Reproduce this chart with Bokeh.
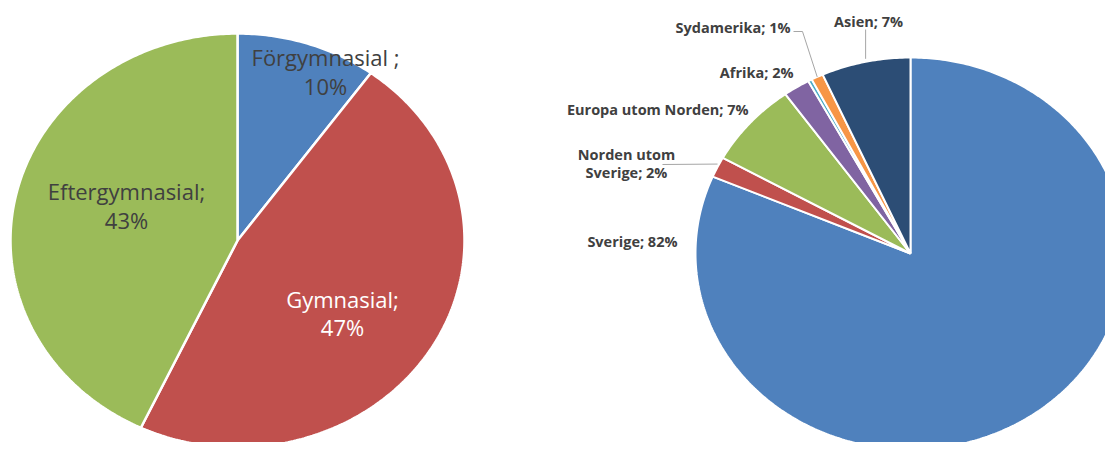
import numpy as np
from bokeh.plotting import figure
from bokeh.models import Range1d
from bokeh.embed import file_html
from bokeh.resources import INLINE
from bokeh.core.properties import value

# ---------------- data ----------------
edu_categories = ["Förgymnasial", "Gymnasial", "Eftergymnasial"]
edu_values = [10, 47, 43]
edu_names = ["Förgymnasial ;", "Gymnasial;", "Eftergymnasial;"]
edu_pct = ["10%", "47%", "43%"]

origin_categories = ["Sverige", "Norden utom Sverige", "Europa utom Norden",
                     "Afrika", "Nordamerika", "Sydamerika", "Asien"]
origin_values = [81.5, 1.7, 7.0, 2.0, 0.3, 0.9, 6.7]
origin_pct = ["82%", "2%", "7%", "2%", "", "1%", "7%"]

# ---------------- styles / layout ----------------
edu_colors = ["#4F81BD", "#C0504D", "#9BBB59"]
origin_colors = ["#4F81BD", "#C0504D", "#9BBB59", "#8064A2", "#4BACC6", "#F79646", "#2C4D75"]
TEXT = "#404040"
LEADER = "#A6A6A6"
FONT = value("Open Sans")

W, H = 1105, 442
p = figure(width=W, height=H, x_range=Range1d(0, W), y_range=Range1d(H, 0),
           output_backend="svg", toolbar_location=None, min_border=0)
p.axis.visible = False
p.grid.visible = False
p.outline_line_color = None
p.background_fill_color = "white"


def slice_shapes(values, cx, cy, rx, ry):
    total = float(sum(values))
    cum = np.concatenate([[0.0], np.cumsum(values)]) / total * 2 * np.pi
    xs, ys = [], []
    for a0, a1 in zip(cum[:-1], cum[1:]):
        n = max(int((a1 - a0) * 80), 2) + 1
        t = np.linspace(a0, a1, n)
        xs.append(np.concatenate([[cx], cx + rx * np.sin(t), [cx]]))
        ys.append(np.concatenate([[cy], cy - ry * np.cos(t), [cy]]))
    mids = (cum[:-1] + cum[1:]) / 2
    return xs, ys, mids


# ---- left pie ----
L_CX, L_CY, L_RX, L_RY = 237, 240, 227, 207
xs, ys, _ = slice_shapes(edu_values, L_CX, L_CY, L_RX, L_RY)
p.patches(xs, ys, fill_color=edu_colors, line_color="white", line_width=2.5)

# (center x, middle of line 1, middle of line 2)
edu_label_pos = [(325, 56, 85), (342, 298, 326), (126, 190, 219)]
edu_text_colors = [TEXT, "white", TEXT]
for (lx, y1, y2), name, pct, col in zip(edu_label_pos, edu_names, edu_pct, edu_text_colors):
    p.text(x=[lx, lx], y=[y1, y2], text=[name, pct], text_font=FONT,
           text_font_size="22px", text_align="center", text_baseline="middle",
           text_color=col)

# ---- right pie ----
R_CX, R_CY, R_RX, R_RY = 910, 253, 215, 196
xs, ys, mids = slice_shapes(origin_values, R_CX, R_CY, R_RX, R_RY)
p.patches(xs, ys, fill_color=origin_colors, line_color="white", line_width=2)

edge_x = R_CX + R_RX * np.sin(mids)
edge_y = R_CY - R_RY * np.cos(mids)

# label layout: (x, middle y, align)
origin_label_pos = {
    0: [(677, 241, "right")],
    1: [(626, 153.5, "center"), (626, 172, "center")],
    2: [(748, 109, "right")],
    3: [(793, 72, "right")],
    5: [(790, 27, "right")],
    6: [(868, 20.5, "center")],
}
for i, pos in origin_label_pos.items():
    name = origin_categories[i]
    if len(pos) == 2:
        parts = name.split(" ")
        lines = [" ".join(parts[:2]), parts[2] + "; " + origin_pct[i]]
    else:
        lines = [name + "; " + origin_pct[i]]
    for (lx, ly, al), t in zip(pos, lines):
        p.text(x=[lx], y=[ly], text=[t], text_font=FONT, text_font_style="bold",
               text_font_size="14.5px", text_align=al, text_baseline="middle",
               text_color=TEXT)

# leader lines
p.line([793, 802, edge_x[5]], [31, 31, edge_y[5]], line_color=LEADER, line_width=1)
p.line([edge_x[6], edge_x[6]], [29, edge_y[6] - 3], line_color=LEADER, line_width=1)
p.line([662, edge_x[1]], [164, edge_y[1] - 3], line_color=LEADER, line_width=1)

open("out.html", "w").write(file_html(p, INLINE))
